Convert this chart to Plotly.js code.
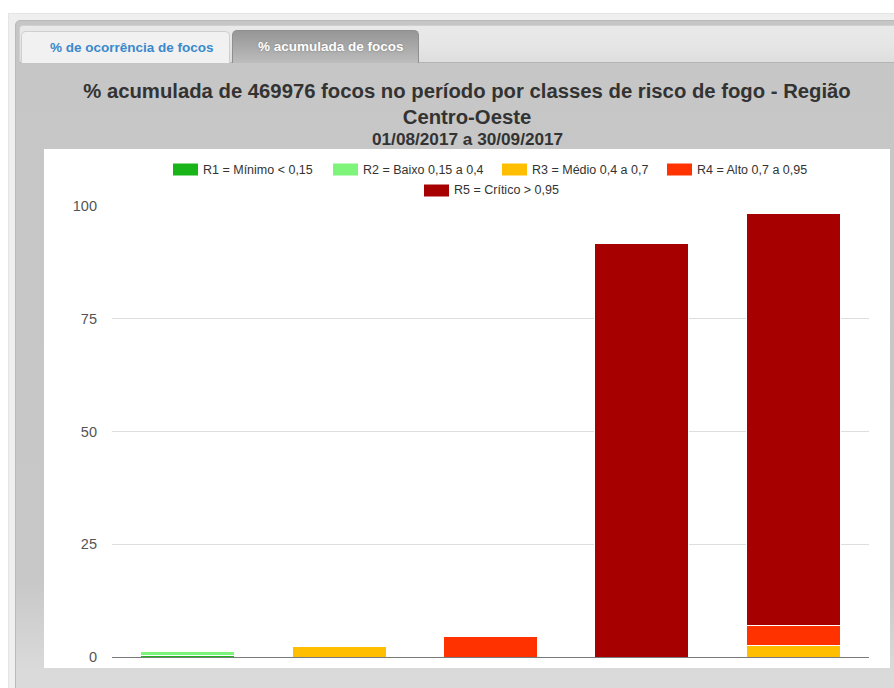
<!DOCTYPE html>
<html>
<head>
<meta charset="utf-8">
<script src="https://cdn.plot.ly/plotly-3.0.1.min.js"></script>
<style>
  html, body { margin:0; padding:0; }
  body { width:894px; height:688px; overflow:hidden; background:#ffffff; position:relative;
         font-family:"Liberation Sans", Arial, sans-serif; }
  .abs { position:absolute; }
  #band { left:8px; top:13px; width:900px; height:700px; background:#efefef; border-top:1px solid #e4e4e4; border-left:1px solid #e4e4e4; }
  #panel { left:15px; top:20px; width:900px; height:700px; border:1px solid #b9b9b9; border-radius:5px;
           background:linear-gradient(to bottom, #c6c6c6 0px, #c8c8c8 560px, #dadada 650px, #dadada 700px); }
  #tabbar { left:19px; top:25px; width:890px; height:36px; border:1px solid #d0d0d0; border-bottom:1px solid #b4b4b4;
            border-radius:4px 4px 0 0; background:linear-gradient(to bottom, #e9e9e9 0%, #e6e6e6 50%, #dedede 100%); }
  .tab { top:31px; height:31px; border-radius:5px 5px 0 0; font-weight:bold; font-size:13.5px;
         line-height:31px; white-space:nowrap; }
  #tab1 { left:21px; width:207px; background:#f1f1f1; border:1px solid #cfcfcf; border-bottom:none; color:#3b89cc; }
  #tab1 span { position:absolute; left:28px; top:0; }
  #tab2 { left:232px; width:185px; top:30px; height:32px; background:linear-gradient(to bottom, #969696 0%, #a9a9a9 50%, #bdbdbd 100%);
          border:1px solid #8f8f8f; border-bottom:none; color:#ffffff; text-shadow:0 0 2px #777; }
  #tab2 span { position:absolute; left:25px; top:0; line-height:32px; }
  #white { left:44px; top:149px; width:846px; height:519px; background:#ffffff; }
  #chart { left:0; top:0; width:894px; height:688px; }
</style>
</head>
<body>
<div id="band" class="abs"></div>
<div id="panel" class="abs"></div>
<div id="tabbar" class="abs"></div>
<div id="tab1" class="abs tab"><span>% de ocorrência de focos</span></div>
<div id="tab2" class="abs tab"><span>% acumulada de focos</span></div>
<div id="white" class="abs"></div>
<div id="chart" class="abs"></div>
<script>
// ---- data ----
const categories = ['1', '2', '3', '4', '5'];
const seriesNames = ['R1 = Mínimo < 0,15', 'R2 = Baixo 0,15 a 0,4', 'R3 = Médio 0,4 a 0,7', 'R4 = Alto 0,7 a 0,95', 'R5 = Crítico > 0,95'];
const r1Values = [0.3, null, null, null, null];
const r2Values = [1.0, null, null, null, null];
const r3Values = [null, 2.3, null, null, 2.5];
const r4Values = [0.25, 0.35, 4.6, null, 4.5];
const r5Values = [null, null, null, 91.7, 91.4];
const yTickValues = [0, 25, 50, 75, 100];
const yTickLabels = ['0', '25', '50', '75', '100'];
const titleText = '% acumulada de 469976 focos no período por classes de risco de fogo - Região<br>Centro-Oeste';
const subtitleText = '01/08/2017 a 30/09/2017';

// ---- styles ----
const seriesColors = ['#18b418', '#7ef47a', '#ffbf00', '#ff3200', '#a60000'];
const seriesValues = [r1Values, r2Values, r3Values, r4Values, r5Values];
const FONT = 'Liberation Sans, Arial, sans-serif';

const W = 894, H = 688, ML = 112, MR = 25, MT = 206, MB = 31;
const PW = W - ML - MR, PH = H - MT - MB;
const pxX = x => (x - ML) / PW;
const pxY = y => (H - MB - y) / PH;

// legend layout (page pixels)
const legendSwatchLeft = [173, 333, 502, 667, 424];
const legendRowCenter = [169.5, 169.5, 169.5, 169.5, 190.5];
const swatchW = 25, swatchH = 12;

const traces = seriesNames.map((name, i) => ({
  type: 'bar',
  name: name,
  x: categories,
  y: seriesValues[i],
  marker: { color: seriesColors[i], line: { color: '#ffffff', width: 1 } },
  hoverinfo: 'name+y'
}));

const shapes = [];
const annotations = [];
seriesNames.forEach((name, i) => {
  const x0 = legendSwatchLeft[i], yc = legendRowCenter[i];
  shapes.push({
    type: 'rect', xref: 'paper', yref: 'paper', layer: 'above',
    x0: pxX(x0), x1: pxX(x0 + swatchW), y0: pxY(yc + swatchH / 2), y1: pxY(yc - swatchH / 2),
    fillcolor: seriesColors[i], line: { width: 0 }
  });
  annotations.push({
    xref: 'paper', yref: 'paper', x: pxX(x0 + swatchW + 3), y: pxY(yc),
    xanchor: 'left', yanchor: 'middle', showarrow: false,
    text: name, font: { family: FONT, size: 12.5, color: '#333333' }
  });
});
annotations.push({
  xref: 'paper', yref: 'paper', x: pxX(467), y: pxY(138.5),
  xanchor: 'center', yanchor: 'middle', showarrow: false,
  text: subtitleText, font: { family: FONT, size: 17.2, color: '#333333', weight: 'bold' }
});

const layout = {
  width: W, height: H,
  margin: { l: ML, r: MR, t: MT, b: MB, pad: 0 },
  paper_bgcolor: 'rgba(0,0,0,0)',
  plot_bgcolor: 'rgba(0,0,0,0)',
  barmode: 'stack',
  bargap: 0.379,
  showlegend: false,
  title: {
    text: titleText,
    font: { family: FONT, size: 20.3, color: '#333333', weight: 'bold' },
    xref: 'container', x: 467 / W, xanchor: 'center',
    yref: 'container', y: 1 - 98 / H, yanchor: 'top'
  },
  xaxis: {
    type: 'category', showticklabels: false, showgrid: false, zeroline: false,
    showline: true, linecolor: '#7a7a7a', linewidth: 1, ticks: ''
  },
  yaxis: {
    range: [0, 100], tickmode: 'array', tickvals: yTickValues, ticktext: yTickLabels,
    showgrid: true, gridcolor: '#dedede', gridwidth: 1, zeroline: false, showline: false,
    ticks: '', ticklabelstandoff: 14,
    tickfont: { family: FONT, size: 14.5, color: '#555555' }
  },
  shapes: shapes,
  annotations: annotations,
  font: { family: FONT }
};

Plotly.newPlot('chart', traces, layout, { displayModeBar: false, staticPlot: true });
</script>
</body>
</html>
